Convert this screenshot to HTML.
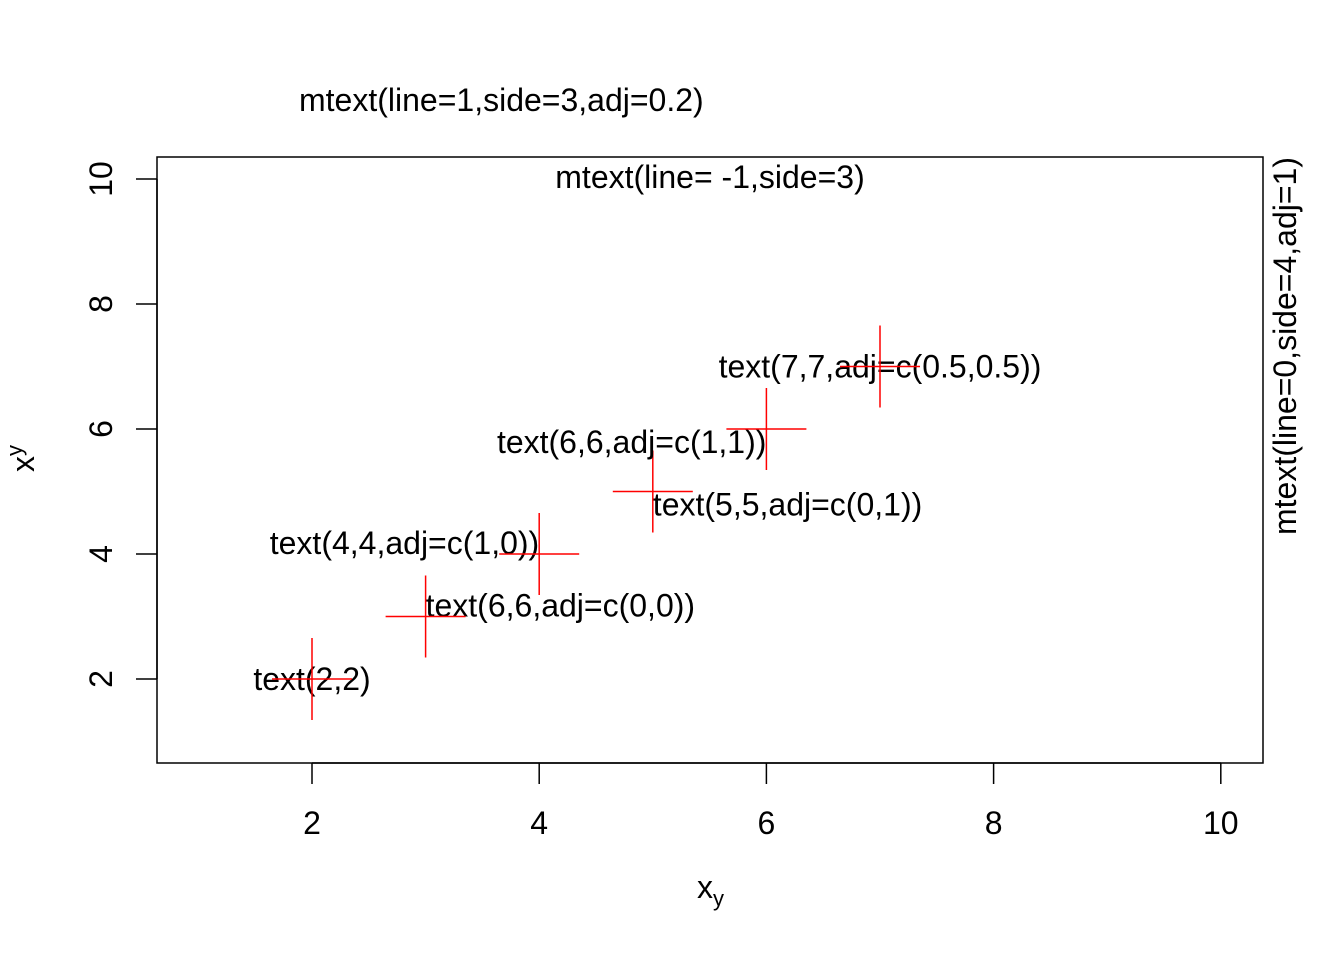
<!DOCTYPE html>
<html><head><meta charset="utf-8"><style>body{margin:0;background:#fff}svg text{font-family:"Liberation Sans",Arial,sans-serif;font-size:32px;fill:#000}</style></head>
<body>
<svg id="chart" width="1344" height="960" xmlns="http://www.w3.org/2000/svg">
<rect x="157" y="157" width="1106" height="606" fill="none" stroke="#000" stroke-width="1.5"/>
<g id="axes"></g>
<g id="marks"></g>
<text x="299" y="111">mtext(line=1,side=3,adj=0.2)</text>
<text x="710" y="188" text-anchor="middle">mtext(line= -1,side=3)</text>
<text transform="translate(1296,157) rotate(-90)" text-anchor="end">mtext(line=0,side=4,adj=1)</text>
<text x="697" y="898">x<tspan font-size="22" dy="8">y</tspan></text>
<text transform="translate(34,472) rotate(-90)">x<tspan font-size="22" dy="-12">y</tspan></text>
</svg>
<script>
const xTicks=[2,4,6,8,10];
const yTicks=[2,4,6,8,10];
const pointX=[2,3,4,5,6,7];
const pointY=[2,3,4,5,6,7];
const labels=["text(2,2)","text(6,6,adj=c(0,0))","text(4,4,adj=c(1,0))","text(5,5,adj=c(0,1))","text(6,6,adj=c(1,1))","text(7,7,adj=c(0.5,0.5))"];
const adjX=[0.5,0,1,0,1,0.5];
const adjY=[0.5,0,0,1,1,0.5];
const NS="http://www.w3.org/2000/svg";
const sx=v=>312+(v-2)*113.6;
const sy=v=>679-(v-2)*62.5;
const ax=document.getElementById('axes'),mk=document.getElementById('marks');
function el(t,a,p){const e=document.createElementNS(NS,t);for(const k in a)e.setAttribute(k,a[k]);p.appendChild(e);return e;}
let l=el('line',{x1:sx(xTicks[0]),x2:sx(xTicks[xTicks.length-1]),y1:763,y2:763,stroke:'#000','stroke-width':1.5},ax);


xTicks.forEach(v=>{const t=el('line',{x1:sx(v),x2:sx(v),y1:763,y2:784,stroke:'#000','stroke-width':1.5},ax);


const tx=el('text',{x:sx(v),y:834,'text-anchor':'middle'},ax);tx.textContent=v;

});
l=el('line',{x1:157,x2:157,y1:sy(yTicks[0]),y2:sy(yTicks[yTicks.length-1]),stroke:'#000','stroke-width':1.5},ax);


yTicks.forEach(v=>{const t=el('line',{x1:136,x2:157,y1:sy(v),y2:sy(v),stroke:'#000','stroke-width':1.5},ax);


const tx=el('text',{transform:`translate(112,${sy(v)}) rotate(-90)`,'text-anchor':'middle'},ax);tx.textContent=v;

});
pointX.forEach((x,i)=>{const px=sx(x),py=sy(pointY[i]);
const anchor=adjX[i]===0?'start':adjX[i]===1?'end':'middle';
const by=adjY[i]===0?py:adjY[i]===1?py+24:py+11;
const t=el('text',{x:px,y:by,'text-anchor':anchor},mk);t.textContent=labels[i];


const h=el('line',{x1:px-40,x2:px+40,y1:py,y2:py,stroke:'#f00','stroke-width':1.5},mk);


const vv=el('line',{x1:px,x2:px,y1:py-41,y2:py+41,stroke:'#f00','stroke-width':1.5},mk);

});
</script>
</body></html>
